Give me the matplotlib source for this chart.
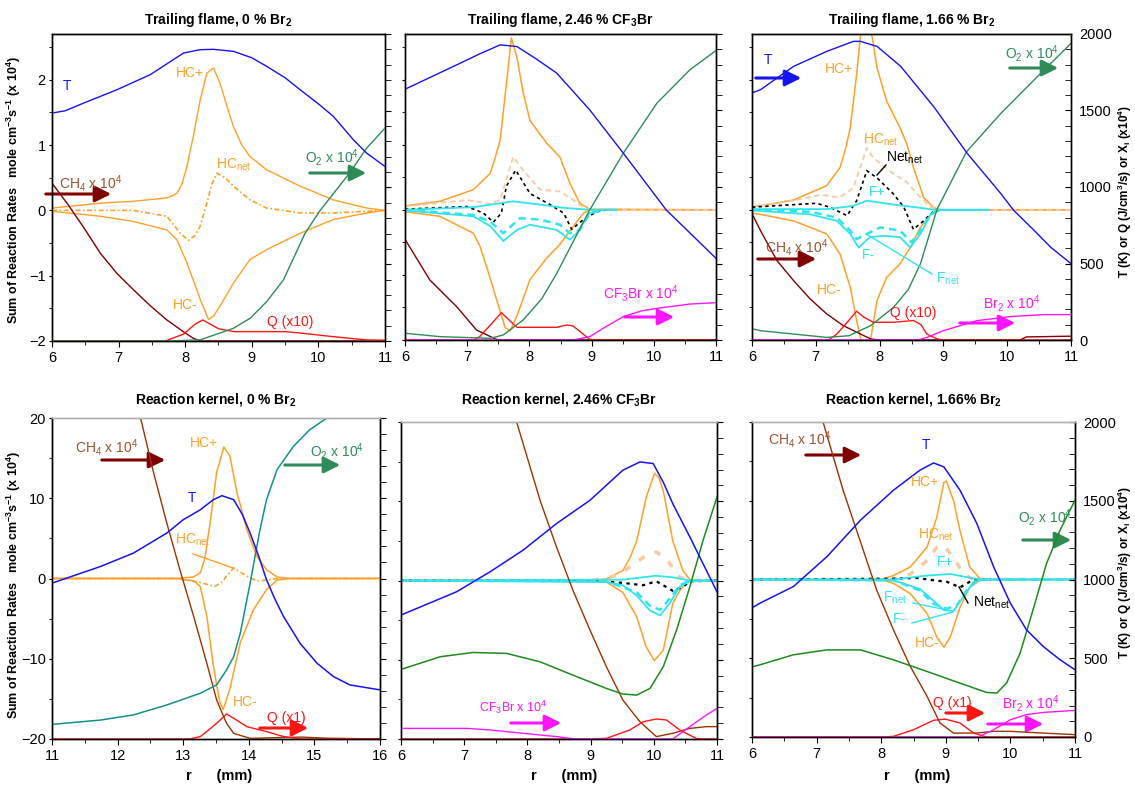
import matplotlib
matplotlib.use('Agg')
import matplotlib.pyplot as plt
from matplotlib.patches import FancyArrowPatch
from matplotlib.lines import Line2D
from matplotlib.ticker import MultipleLocator

plt.rcParams['font.family'] = ['Liberation Sans', 'DejaVu Sans']
plt.rcParams['mathtext.fontset'] = 'custom'
plt.rcParams['mathtext.rm'] = 'Liberation Sans'
plt.rcParams['mathtext.it'] = 'Liberation Sans:italic'
plt.rcParams['mathtext.bf'] = 'Liberation Sans:bold'

# ---------------- data: (r [mm], value) ----------------
# Trailing flame, 0 % Br2  (right axis: T, O2, CH4, Q ; left axis: rates x1e4)
t0_T = [(6, 1485), (6.2, 1500), (6.475, 1550), (6.975, 1637), (7.475, 1735), (7.975, 1876),
        (8.225, 1898), (8.425, 1900), (8.725, 1887), (9.0, 1845), (9.225, 1789), (9.5, 1715),
        (9.725, 1637), (10.0, 1545), (10.225, 1463), (10.525, 1311), (10.725, 1224), (11, 1137)]
t0_O2 = [(6, 0), (7.725, 0), (8.225, 7), (8.725, 83), (8.975, 148), (9.225, 257), (9.475, 398),
         (9.8, 702), (10.025, 850), (10.475, 1098), (10.725, 1257), (11, 1387)]
t0_CH4 = [(6, 1028), (6.225, 898), (6.475, 740), (6.725, 572), (6.975, 440), (7.225, 333),
          (7.475, 230), (7.725, 137), (7.975, 60), (8.125, 17), (8.225, 0), (11, 0)]
t0_Q = [(6, 0), (7.7, 0), (7.975, 45), (8.15, 110), (8.265, 137), (8.375, 110), (8.5, 80),
        (8.725, 61), (9.5, 61), (9.725, 52), (10.225, 28), (10.725, 7), (11, 5)]
t0_HCp = [(6, 0.035), (6.725, 0.11), (7.225, 0.14), (7.725, 0.19), (7.875, 0.26), (7.95, 0.4),
          (8.025, 0.67), (8.125, 1.15), (8.225, 1.69), (8.325, 2.10), (8.425, 2.18), (8.525, 1.94),
          (8.625, 1.6), (8.725, 1.28), (8.85, 1.0), (8.975, 0.82), (9.225, 0.62), (9.725, 0.37),
          (10.225, 0.16), (10.725, 0.035), (11, 0.0)]
t0_HCm = [(6, -0.015), (6.725, -0.09), (7.225, -0.17), (7.725, -0.30), (7.875, -0.45),
          (8.025, -0.80), (8.125, -1.08), (8.225, -1.36), (8.35, -1.67), (8.425, -1.62),
          (8.55, -1.42), (8.725, -1.11), (8.975, -0.75), (9.225, -0.60), (9.725, -0.35),
          (10.225, -0.14), (10.725, -0.04), (11, 0)]
t0_HCn = [(6, 0), (7.225, 0), (7.725, -0.09), (7.925, -0.35), (8.05, -0.46), (8.15, -0.38),
          (8.225, -0.24), (8.325, 0.11), (8.4, 0.4), (8.475, 0.57), (8.6, 0.5), (8.725, 0.37),
          (8.975, 0.16), (9.225, 0.035), (9.725, -0.04), (10.225, -0.04), (11, 0)]

# Trailing flame, 2.46 % CF3Br
tc_T = [(6, 1639), (6.83, 1798), (7.2, 1870), (7.53, 1929), (7.8, 1918), (8.1, 1840), (8.44, 1744),
        (8.97, 1504), (9.51, 1221), (10.2, 850), (11, 534)]
tc_O2 = [(6, 44), (6.56, 22), (7.37, 11), (7.58, 33), (7.9, 131), (8.2, 270), (8.44, 436),
         (8.7, 640), (8.97, 850), (9.51, 1221), (10.05, 1548), (10.58, 1766), (11, 1892)]
tc_CH4 = [(6, 658), (6.4, 392), (6.83, 218), (7.15, 65), (7.47, 4), (7.6, 0), (11, 0)]
tc_Q = [(6, 0), (7.1, 0), (7.2, 22), (7.4, 110), (7.55, 179), (7.7, 120), (7.8, 83), (8.44, 83),
        (8.6, 98), (8.7, 92), (8.8, 60), (8.97, 4), (9.1, 0), (11, 0)]
tc_CF3Br = [(6, 0), (8.7, 0), (8.97, 22), (9.2, 80), (9.51, 153), (9.8, 190), (10.05, 207),
            (10.58, 235), (11, 244)]
tc_HCp = [(6, 0.06), (6.56, 0.13), (7.1, 0.31), (7.37, 0.56), (7.45, 0.8), (7.53, 1.07),
          (7.63, 1.93), (7.71, 2.64), (7.8, 2.34), (7.9, 1.8), (8.01, 1.37), (8.28, 1.02),
          (8.49, 0.81), (8.65, 0.41), (8.81, 0.10), (8.97, 0.01), (11, 0)]
tc_HCm = [(6, -0.03), (6.56, -0.10), (7.1, -0.36), (7.2, -0.55), (7.31, -0.87), (7.47, -1.37),
          (7.61, -1.81), (7.69, -1.86), (7.8, -1.63), (8.01, -1.07), (8.28, -0.74), (8.49, -0.53),
          (8.71, -0.25), (8.87, -0.05), (8.97, 0), (11, 0)]
tc_HCn = [(6, 0.05), (7.0, 0.15), (7.37, 0.09), (7.53, 0.15), (7.64, 0.5), (7.74, 0.81),
          (7.9, 0.61), (8.17, 0.31), (8.49, 0.28), (8.71, 0.15), (8.87, 0.03), (8.97, 0), (11, 0)]
tc_Net = [(6, 0.01), (7.0, 0.05), (7.26, -0.05), (7.42, -0.19), (7.55, -0.05), (7.63, 0.36),
          (7.78, 0.61), (8.01, 0.25), (8.33, 0.08), (8.55, -0.05), (8.68, -0.30), (8.87, -0.15),
          (9.08, -0.03), (9.25, 0)]
tc_Fp = [(6, 0), (7.1, 0.04), (7.74, 0.13), (8.17, 0.08), (8.55, 0.03), (8.97, 0), (9.4, 0)]
tc_Fm = [(6, -0.01), (7.1, -0.10), (7.37, -0.25), (7.58, -0.48), (7.8, -0.31), (8.01, -0.23),
         (8.44, -0.31), (8.65, -0.46), (8.76, -0.36), (8.97, -0.05), (9.2, 0), (9.4, 0)]
tc_Fn = [(6, 0), (7.1, -0.08), (7.37, -0.18), (7.58, -0.36), (7.85, -0.13), (8.17, -0.15),
         (8.49, -0.23), (8.65, -0.36), (8.81, -0.31), (8.97, -0.05), (9.2, 0)]

# Trailing flame, 1.66 % Br2
tb_T = [(6, 1615), (6.13, 1635), (6.65, 1788), (7.17, 1886), (7.59, 1952), (7.70, 1952),
        (7.96, 1919), (8.33, 1789), (8.85, 1524), (9.375, 1219), (9.9, 957), (10.1, 848),
        (10.42, 717), (10.68, 607), (11, 499)]
tb_O2 = [(6, 74), (6.13, 61), (6.65, 39), (7.17, 17), (7.52, 28), (7.86, 94), (8.22, 214),
         (8.45, 330), (8.64, 498), (8.9, 854), (9.36, 1229), (9.9, 1481), (10.42, 1699), (11, 1939)]
tb_CH4 = [(6, 826), (6.13, 717), (6.39, 520), (6.65, 389), (6.91, 269), (7.17, 171), (7.43, 94),
          (7.70, 39), (7.86, 7), (8.0, 0), (10.2, 0), (10.3, 20), (11, 25)]
tb_Q = [(6, 0), (7.2, 0), (7.33, 39), (7.5, 120), (7.64, 188), (7.75, 150), (7.9, 116), (8.22, 116),
        (8.53, 127), (8.65, 100), (8.74, 39), (8.9, 7), (9.0, 0), (11, 0)]
tb_Br2 = [(6, 0), (8.6, 0), (8.74, 17), (9.0, 61), (9.53, 127), (10.05, 153), (10.57, 166), (11, 166)]
tb_HCp = [(6, 0.05), (6.13, 0.06), (6.65, 0.15), (7.17, 0.37), (7.38, 0.65), (7.47, 0.95),
          (7.54, 1.26), (7.64, 2.08), (7.70, 2.67), (7.78, 3.0), (7.88, 2.67), (7.96, 2.18),
          (8.11, 1.67), (8.32, 1.26), (8.43, 1.0), (8.53, 0.65), (8.69, 0.19), (8.85, 0.03),
          (8.95, 0), (11, 0)]
tb_HCm = [(6, -0.05), (6.13, -0.07), (6.65, -0.17), (7.17, -0.37), (7.38, -0.68), (7.54, -1.19),
          (7.64, -1.70), (7.72, -2.05), (7.78, -2.2), (7.85, -2.05), (7.96, -1.39), (8.11, -1.04),
          (8.32, -0.83), (8.48, -0.58), (8.64, -0.27), (8.8, -0.07), (8.95, 0), (11, 0)]
tb_HCn = [(6, 0.04), (6.65, 0.14), (7.07, 0.23), (7.38, 0.19), (7.59, 0.34), (7.80, 0.95),
          (7.9, 0.80), (8.22, 0.55), (8.43, 0.42), (8.64, 0.19), (8.8, 0.04), (8.95, 0), (11, 0)]
tb_Net = [(6, 0.04), (7.01, 0.10), (7.22, 0.04), (7.49, -0.09), (7.64, 0.14), (7.80, 0.60),
          (7.96, 0.49), (8.22, 0.24), (8.38, 0.04), (8.53, -0.30), (8.69, -0.17), (8.85, -0.02),
          (9.0, 0)]
tb_Fp = [(6, 0.01), (7.17, 0.01), (7.59, 0.06), (7.80, 0.14), (8.22, 0.08), (8.64, 0.03),
         (8.85, 0), (9.7, 0)]
tb_Fm = [(6, -0.01), (6.91, -0.07), (7.33, -0.17), (7.54, -0.37), (7.67, -0.58), (7.85, -0.42),
         (8.06, -0.40), (8.32, -0.42), (8.48, -0.58), (8.64, -0.37), (8.80, -0.07), (8.95, 0),
         (9.7, 0)]
tb_Fn = [(6, 0), (6.91, -0.03), (7.33, -0.12), (7.54, -0.32), (7.64, -0.45), (7.8, -0.37),
         (8.01, -0.27), (8.32, -0.32), (8.5, -0.50), (8.64, -0.32), (8.8, -0.07), (8.95, 0)]

# Reaction kernel, 0 % Br2
k0_T = [(11, 971), (11.74, 1075), (12.24, 1158), (12.75, 1283), (13.0, 1366), (13.26, 1428),
        (13.46, 1491), (13.59, 1516), (13.77, 1491), (13.9, 1400), (14.02, 1283), (14.15, 1140),
        (14.27, 992), (14.4, 870), (14.53, 763), (14.78, 597), (15.04, 472), (15.29, 389),
        (15.54, 337), (16, 306)]
k0_O2 = [(11, 91), (11.74, 118), (12.24, 150), (12.75, 212), (13.26, 285), (13.51, 337),
         (13.58, 380), (13.66, 430), (13.77, 514), (13.87, 659), (14.02, 971), (14.17, 1304),
         (14.27, 1491), (14.43, 1678), (14.68, 1823), (14.93, 1927), (15.19, 2000), (15.5, 2080),
         (16, 2150)]
k0_CH4 = [(12.2, 2257), (12.35, 2000), (12.55, 1657), (12.75, 1345), (12.95, 1054), (13.16, 763),
          (13.36, 472), (13.51, 243), (13.66, 98), (13.77, 35), (14.02, 4), (14.4, 8), (14.8, 12),
          (15.2, 5), (16, 0)]
k0_Q = [(11, 0), (13.1, 0), (13.26, 15), (13.4, 60), (13.51, 98), (13.66, 156), (13.77, 129),
        (13.97, 77), (14.27, 46), (14.53, 15), (14.8, 0), (16, 0)]
k0_HCp = [(11, 0), (12.9, 0), (13.16, 0.2), (13.26, 0.7), (13.33, 2.5), (13.41, 6.9), (13.51, 13.2),
          (13.62, 16.4), (13.71, 15.3), (13.82, 10.7), (13.97, 6.1), (14.12, 2.8), (14.27, 1.1),
          (14.43, 0.2), (14.6, 0), (16, 0)]
k0_HCm = [(11, 0), (12.9, 0), (13.16, -0.3), (13.26, -1.0), (13.36, -4.7), (13.46, -10.9),
          (13.56, -15.5), (13.61, -16.3), (13.71, -13.8), (13.87, -8.0), (14.07, -3.9),
          (14.27, -1.4), (14.43, -0.2), (14.6, 0), (16, 0)]
k0_HCn = [(11, 0), (12.9, 0), (13.26, -0.5), (13.48, -1.0), (13.6, -0.4), (13.66, 0.3),
          (13.77, 1.3), (13.97, 0.3), (14.12, -0.3), (14.27, -0.2), (14.43, 0), (16, 0)]

# Reaction kernel, 2.46 % CF3Br
kc_T = [(6, 782), (6.88, 929), (7.41, 1055), (7.93, 1191), (8.46, 1359), (8.99, 1506), (9.51, 1696),
        (9.78, 1748), (9.99, 1738), (10.15, 1620), (10.3, 1485), (10.57, 1275), (10.83, 1065),
        (11, 929)]
kc_O2 = [(6, 439), (6.62, 519), (7.14, 546), (7.67, 540), (8.2, 487), (8.72, 403), (9.25, 319),
         (9.51, 284), (9.73, 277), (9.94, 319), (10.15, 456), (10.36, 687), (10.57, 960),
         (10.78, 1254), (11, 1527)]
kc_CH4 = [(7.6, 2300), (7.83, 2000), (8.2, 1506), (8.46, 1212), (8.72, 939), (8.99, 687),
          (9.25, 456), (9.51, 246), (9.78, 109), (10.04, 15), (10.3, 36), (10.57, 67), (10.83, 78),
          (11, 78)]
kc_CF3Br = [(6, 67), (7.04, 67), (7.41, 57), (7.93, 36), (8.46, 15), (8.72, 2), (8.8, 0), (10.3, 0),
            (10.57, 78), (10.83, 151), (11, 193)]
kc_Q = [(6, 0), (9.0, 0), (9.25, 4), (9.62, 57), (9.83, 109), (10.04, 126), (10.2, 120),
        (10.41, 57), (10.67, 4), (10.8, 0), (11, 0)]
kc_HCp = [(6, 0), (9.0, 0), (9.25, 0.2), (9.51, 1.26), (9.62, 2.8), (9.73, 5.0), (9.88, 10.5),
          (10.01, 13.5), (10.08, 13.0), (10.15, 11.3), (10.3, 5.0), (10.46, 1.26), (10.57, 0.1),
          (10.7, 0), (11, 0)]
kc_HCm = [(6, 0), (9.0, 0), (9.25, -0.2), (9.51, -1.5), (9.73, -4.6), (9.88, -8.4), (10.01, -10.1),
          (10.15, -8.8), (10.3, -2.9), (10.41, -1.3), (10.52, -0.2), (10.6, 0), (11, 0)]
kc_HCn = [(6, 0), (9.0, 0), (9.41, 0.6), (9.62, 1.7), (9.83, 2.9), (10.04, 3.6), (10.2, 2.7),
          (10.41, 0.4), (10.57, 0), (11, 0)]
kc_Fp = [(6, 0), (9.5, 0.1), (10.04, 0.6), (10.3, 0.4), (10.57, 0), (11, 0)]
kc_Fm = [(6, 0), (9.25, -0.2), (9.51, -0.6), (9.73, -1.9), (9.94, -3.8), (10.1, -4.4),
         (10.25, -2.9), (10.41, -0.8), (10.57, -0.1), (11, 0)]
kc_Fn = [(6, 0), (9.25, -0.1), (9.73, -1.5), (9.94, -3.2), (10.1, -3.7), (10.25, -2.3),
         (10.41, -0.6), (10.57, 0), (11, 0)]
kc_Net = [(6, 0), (9.0, 0), (9.51, -0.3), (9.83, -0.6), (10.04, -0.1), (10.3, -1.3), (10.46, -0.8),
          (10.57, -0.1), (11, 0)]

# Reaction kernel, 1.66 % Br2
kb_T = [(6, 820), (6.12, 849), (6.64, 955), (7.16, 1145), (7.68, 1377), (8.19, 1567), (8.6, 1694),
        (8.81, 1740), (8.97, 1715), (9.22, 1567), (9.48, 1356), (9.74, 1081), (10.0, 849),
        (10.25, 680), (10.51, 574), (10.77, 490), (11, 427)]
kb_O2 = [(6, 445), (6.12, 458), (6.64, 522), (7.16, 553), (7.68, 553), (8.19, 490), (8.71, 416),
         (9.22, 342), (9.63, 283), (9.79, 279), (9.94, 342), (10.15, 532), (10.35, 807),
         (10.56, 1102), (10.77, 1314), (11, 1504)]
kb_CH4 = [(6.85, 2350), (7.1, 2000), (7.41, 1567), (7.67, 1250), (7.93, 933), (8.19, 680),
          (8.45, 448), (8.71, 258), (8.91, 89), (9.12, 25), (9.48, 25), (9.74, 36), (10.0, 36),
          (10.5, 25), (11, 15)]
kb_Br2 = [(6, 0), (9.5, 0), (9.74, 46), (10.0, 110), (10.25, 142), (10.51, 156), (11, 169)]
kb_Q = [(6, 0), (8.0, 0), (8.19, 4), (8.5, 46), (8.81, 106), (8.99, 114), (9.22, 89), (9.43, 25),
        (9.63, 0), (11, 0)]
kb_HCp = [(6, 0), (8.0, 0), (8.19, 0.5), (8.45, 1.6), (8.71, 4.1), (8.86, 7.9), (8.97, 12.3),
          (9.01, 12.5), (9.12, 10.0), (9.22, 6.2), (9.37, 1.6), (9.53, 0.1), (9.6, 0), (11, 0)]
kb_HCm = [(6, 0), (8.0, 0), (8.19, -0.5), (8.45, -1.8), (8.71, -4.3), (8.86, -7.3), (8.97, -8.6),
          (9.07, -7.3), (9.22, -3.5), (9.37, -1.0), (9.53, -0.1), (9.6, 0), (11, 0)]
kb_HCn = [(6, 0), (8.19, 0), (8.45, 0.7), (8.71, 2.4), (8.86, 4.1), (8.97, 4.3), (9.12, 2.8),
          (9.27, 0.7), (9.43, 0), (11, 0)]
kb_Fp = [(6, 0), (8.19, 0), (8.71, 0.5), (9.07, 0.7), (9.32, 0.3), (9.53, 0), (11, 0)]
kb_Fm = [(6, 0), (8.19, -0.1), (8.6, -1.2), (8.81, -2.7), (8.97, -3.9), (9.12, -4.0), (9.27, -2.2),
         (9.43, -0.3), (9.6, 0), (11, 0)]
kb_Fn = [(6, 0), (8.19, -0.1), (8.6, -1.4), (8.81, -3.1), (9.02, -3.7), (9.17, -3.3), (9.32, -1.4),
         (9.48, -0.1), (9.6, 0), (11, 0)]
kb_Net = [(6, 0), (8.19, 0.1), (8.55, 0.2), (8.81, -0.1), (9.02, -0.3), (9.22, -1.0), (9.37, -0.3),
          (9.48, 0), (9.7, 0)]

titles = ['Trailing flame, 0 % Br$_\\mathbf{2}$', 'Trailing flame, 2.46 % CF$_\\mathbf{3}$Br',
          'Trailing flame, 1.66 % Br$_\\mathbf{2}$', 'Reaction kernel, 0 % Br$_\\mathbf{2}$',
          'Reaction kernel, 2.46% CF$_\\mathbf{3}$Br', 'Reaction kernel, 1.66% Br$_\\mathbf{2}$']

# ---------------- styling ----------------
W, H = 1135, 786
ORANGE = '#ffa02a'
PEACH = '#f8c9a2'
CYAN = '#2fe4ee'
BLUE = '#1414f0'
RED = '#ff1414'
MAG = '#ff14ff'
MAROON = '#800000'
BROWN = '#993300'
SEA = '#2e8b57'
TEAL = '#12908a'
GREEN = '#1c8a1c'
SIENNA = '#a0522d'

fig = plt.figure(figsize=(W / 100, H / 100), dpi=100)


def fx(x):
    return x / W


def fy(y):
    return 1 - y / H


def curve(ax, pts, color, ls='-', lw=1.0):
    ax.plot([p[0] for p in pts], [p[1] for p in pts], color=color, ls=ls, lw=lw)


def label(x, y, s, color, size=10, **kw):
    fig.text(fx(x), fy(y), s, color=color, fontsize=size, ha='left', va='center', **kw)


def arrow(x0, x1, y, color):
    fig.add_artist(FancyArrowPatch((fx(x0), fy(y)), (fx(x1), fy(y)), transform=fig.transFigure,
                                   arrowstyle='-|>,head_length=0.7,head_width=0.35',
                                   mutation_scale=14, color=color, lw=2.2))


def leader(x0, y0, x1, y1, color):
    fig.add_artist(Line2D([fx(x0), fx(x1)], [fy(y0), fy(y1)], transform=fig.transFigure,
                          color=color, lw=1.0))


# panel rectangles in pixels: left, top, right, bottom
rects = [(52, 34, 385, 341), (405, 34, 716, 340), (752, 34, 1071, 340),
         (52, 418, 380, 739), (401, 422, 717, 739), (752, 422, 1075, 737)]
xlims = [(6, 11), (6, 11), (6, 11), (11, 16), (6, 11), (6, 11)]

DASHNET = (0, (3, 1.5, 1, 1.5))
# curves: (points, side, color, linestyle, linewidth)
panel_curves = [
    [(t0_HCp, 'L', ORANGE, '-', 1), (t0_HCm, 'L', ORANGE, '-', 1), (t0_HCn, 'L', ORANGE, DASHNET, 1.2),
     (t0_CH4, 'R', MAROON, '-', 1), (t0_Q, 'R', RED, '-', 1), (t0_O2, 'R', SEA, '-', 1),
     (t0_T, 'R', BLUE, '-', 1)],
    [(tc_HCp, 'L', ORANGE, '-', 1.1), (tc_HCm, 'L', ORANGE, '-', 1.1), (tc_HCn, 'L', PEACH, (0, (3, 2)), 1.3),
     (tc_Net, 'L', 'black', (0, (2, 2)), 1.2), (tc_Fp, 'L', CYAN, '-', 1.3), (tc_Fm, 'L', CYAN, '-', 1.3),
     (tc_Fn, 'L', CYAN, (0, (3, 2)), 1.8),
     (tc_CH4, 'R', MAROON, '-', 1), (tc_Q, 'R', RED, '-', 1), (tc_CF3Br, 'R', MAG, '-', 1),
     (tc_O2, 'R', SEA, '-', 1), (tc_T, 'R', BLUE, '-', 1)],
    [(tb_HCp, 'L', ORANGE, '-', 1.1), (tb_HCm, 'L', ORANGE, '-', 1.1), (tb_HCn, 'L', PEACH, (0, (3, 2)), 1.3),
     (tb_Net, 'L', 'black', (0, (2, 2)), 1.2), (tb_Fp, 'L', CYAN, '-', 1.3), (tb_Fm, 'L', CYAN, '-', 1.3),
     (tb_Fn, 'L', CYAN, (0, (3, 2)), 1.8),
     (tb_CH4, 'R', MAROON, '-', 1), (tb_Q, 'R', RED, '-', 1), (tb_Br2, 'R', MAG, '-', 1),
     (tb_O2, 'R', SEA, '-', 1), (tb_T, 'R', BLUE, '-', 1)],
    [(k0_HCp, 'L', ORANGE, '-', 1.1), (k0_HCm, 'L', ORANGE, '-', 1.1), (k0_HCn, 'L', ORANGE, DASHNET, 1.2),
     (k0_CH4, 'R', BROWN, '-', 1), (k0_Q, 'R', RED, '-', 1), (k0_O2, 'R', TEAL, '-', 1.1),
     (k0_T, 'R', BLUE, '-', 1.1)],
    [(kc_HCp, 'L', ORANGE, '-', 1.1), (kc_HCm, 'L', ORANGE, '-', 1.1), (kc_HCn, 'L', PEACH, (0, (2, 3)), 2.5),
     (kc_Net, 'L', 'black', (0, (1.5, 2)), 1.6), (kc_Fp, 'L', CYAN, '-', 1.3), (kc_Fm, 'L', CYAN, '-', 1.3),
     (kc_Fn, 'L', CYAN, (0, (3, 2)), 1.8),
     (kc_CH4, 'R', BROWN, '-', 1), (kc_Q, 'R', RED, '-', 1), (kc_CF3Br, 'R', MAG, '-', 1),
     (kc_O2, 'R', GREEN, '-', 1.1), (kc_T, 'R', BLUE, '-', 1.1)],
    [(kb_HCp, 'L', ORANGE, '-', 1.1), (kb_HCm, 'L', ORANGE, '-', 1.1), (kb_HCn, 'L', PEACH, (0, (2, 3)), 2.5),
     (kb_Net, 'L', 'black', (0, (1.5, 2)), 1.6), (kb_Fp, 'L', CYAN, '-', 1.3), (kb_Fm, 'L', CYAN, '-', 1.3),
     (kb_Fn, 'L', CYAN, (0, (3, 2)), 1.8),
     (kb_CH4, 'R', BROWN, '-', 1), (kb_Q, 'R', RED, '-', 1), (kb_Br2, 'R', MAG, '-', 1),
     (kb_O2, 'R', GREEN, '-', 1.1), (kb_T, 'R', BLUE, '-', 1.1)],
]

for i, (l, t, r, b) in enumerate(rects):
    row, col = divmod(i, 3)
    ax = fig.add_axes([fx(l), fy(b), (r - l) / W, (b - t) / H])
    ax2 = ax.twinx()
    ax.set_xlim(*xlims[i])
    if row == 0:
        ax.set_ylim(-2, 2.7)
        ax.yaxis.set_major_locator(MultipleLocator(1))
        ax.yaxis.set_minor_locator(MultipleLocator(0.5))
    else:
        ax.set_ylim(-20, 20)
        ax.yaxis.set_major_locator(MultipleLocator(10))
        ax.yaxis.set_minor_locator(MultipleLocator(5))
    ax2.set_ylim(0, 2000)
    ax2.yaxis.set_major_locator(MultipleLocator(500))
    ax2.yaxis.set_minor_locator(MultipleLocator(100))
    ax.xaxis.set_major_locator(MultipleLocator(1))
    ax.xaxis.set_minor_locator(MultipleLocator(0.5))
    ax.tick_params(axis='x', which='major', direction='out', length=4, labelsize=10.5, pad=3)
    ax.tick_params(axis='x', which='minor', direction='out', length=3)
    ax.tick_params(axis='y', which='both', direction='out', length=2.5, labelsize=10.5,
                   labelleft=(col == 0), pad=2)
    ax2.tick_params(axis='y', which='both', direction='in' if col == 2 else 'out', length=4,
                    labelsize=10.5, labelright=(col == 2), pad=6)
    for a in (ax, ax2):
        for sp in a.spines.values():
            sp.set_linewidth(1.0)
        if row == 1:
            a.spines['top'].set_color('#b0b0b0')
    ax2.set_zorder(ax.get_zorder() + 1)
    ax2.patch.set_visible(False)
    for pts, side, color, ls, lw in panel_curves[i]:
        curve(ax if side == 'L' else ax2, pts, color, ls, lw)
    fig.text(fx((l + r) / 2), fy(20 if row == 0 else 399), titles[i], ha='center', va='center',
             fontsize=10, fontweight='bold')
    if row == 1:
        fig.text(fx(l + (r - l) * 0.41), fy(776), 'r      (mm)', ha='left', va='center',
                 fontsize=10.5, fontweight='bold')

# axis titles
left_title = 'Sum of Reaction Rates   mole cm$^\\mathbf{-3}$s$^\\mathbf{-1}$ (x 10$^\\mathbf{4}$)'
right_title = 'T (K) or Q (J/cm$^\\mathbf{3}$/s) or X$_\\mathbf{i}$ (x10$^\\mathbf{4}$)'
for yc in (190, 585):
    fig.text(fx(14), fy(yc), left_title, rotation=90, ha='center', va='center', fontsize=9,
             fontweight='bold')
for yc in (192, 573):
    fig.text(fx(1125), fy(yc), right_title, rotation=90, ha='center', va='center', fontsize=8.5,
             fontweight='bold')

NET = '$_{\\rm net}$'
# ---- trailing flame, 0 % Br2
label(63, 86, 'T', BLUE)
label(176, 73, 'HC+', ORANGE)
label(216, 165, 'HC' + NET, ORANGE)
label(59, 183, 'CH$_4$ x 10$^4$', SIENNA)
arrow(43, 114, 194, MAROON)
label(305, 157, 'O$_2$ x 10$^4$', SEA)
arrow(307, 369, 173, SEA)
label(173, 305, 'HC-', ORANGE)
label(267, 322, 'Q (x10)', RED)
# ---- trailing flame, CF3Br
label(603, 293, 'CF$_3$Br x 10$^4$', MAG)
arrow(622, 677, 317, MAG)
# ---- trailing flame, 1.66 % Br2
label(764, 60, 'T', BLUE)
arrow(753, 804, 78, BLUE)
label(825, 69, 'HC+', ORANGE)
label(863, 140, 'HC' + NET, ORANGE)
label(886, 158, 'Net' + NET, 'black')
leader(877, 175, 886, 165, 'black')
label(869, 192, 'F+', CYAN)
label(862, 255, 'F-', CYAN)
label(936, 279, 'F' + NET, CYAN)
leader(868, 235, 932, 274, CYAN)
label(765, 248, 'CH$_4$ x 10$^4$', SIENNA)
arrow(755, 819, 259, MAROON)
label(817, 290, 'HC-', ORANGE)
label(890, 313, 'Q (x10)', RED)
label(983, 304, 'Br$_2$ x 10$^4$', MAG)
arrow(957, 1018, 323, MAG)
label(1005, 53, 'O$_2$ x 10$^4$', SEA)
arrow(1007, 1061, 68, SEA)
# ---- reaction kernel, 0 % Br2
label(75, 447, 'CH$_4$ x 10$^4$', SIENNA)
arrow(99, 168, 460, MAROON)
label(190, 443, 'HC+', ORANGE)
label(310, 451, 'O$_2$ x 10$^4$', SEA)
arrow(282, 343, 465, SEA)
label(188, 498, 'T', BLUE)
label(175, 540, 'HC' + NET, ORANGE)
leader(193, 554, 233, 568, ORANGE)
label(233, 702, 'HC-', ORANGE)
label(267, 718, 'Q (x1)', RED)
arrow(257, 311, 728, RED)
# ---- reaction kernel, CF3Br
label(479, 707, 'CF$_3$Br x 10$^4$', MAG, size=9)
arrow(508, 564, 723, MAG)
# ---- reaction kernel, 1.66 % Br2
label(768, 440, 'CH$_4$ x 10$^4$', SIENNA)
arrow(803, 864, 455, MAROON)
label(922, 445, 'T', BLUE)
label(911, 482, 'HC+', ORANGE)
label(918, 535, 'HC' + NET, ORANGE)
label(937, 562, 'F+', CYAN)
label(973, 603, 'Net' + NET, 'black')
leader(959, 587, 968, 603, 'black')
label(883, 598, 'F' + NET, CYAN)
leader(913, 603, 947, 610, CYAN)
label(893, 619, 'F-', CYAN)
leader(912, 623, 953, 612, CYAN)
label(915, 643, 'HC-', ORANGE)
label(1018, 518, 'O$_2$ x 10$^4$', SEA)
arrow(1020, 1074, 540, SEA)
label(933, 703, 'Q (x1)', RED)
arrow(943, 988, 713, RED)
label(1002, 703, 'Br$_2$ x 10$^4$', MAG)
arrow(985, 1046, 724, MAG)

fig.savefig('out.png', dpi=100)
